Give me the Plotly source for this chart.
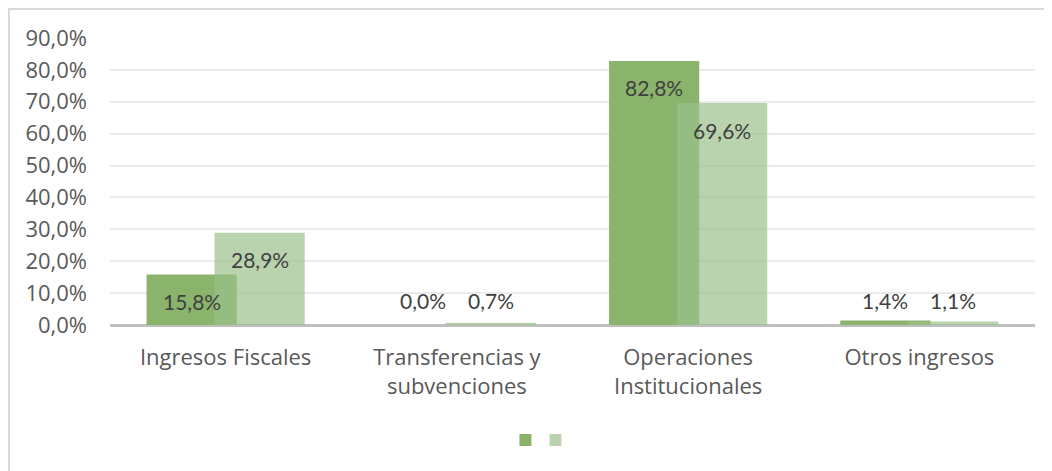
import plotly.graph_objects as go

categories = ["Ingresos Fiscales", "Transferencias y<br>subvenciones", "Operaciones<br>Institucionales", "Otros ingresos"]
serie_1 = [15.8, 0.0, 82.8, 1.4]
serie_2 = [28.9, 0.7, 69.6, 1.1]
tick_vals = [0, 10, 20, 30, 40, 50, 60, 70, 80, 90]
tick_text = ["0,0%", "10,0%", "20,0%", "30,0%", "40,0%", "50,0%", "60,0%", "70,0%", "80,0%", "90,0%"]

x_idx = list(range(len(categories)))
W = 0.39
OFF1 = -0.342
OFF2 = -0.048

fig = go.Figure()
fig.add_trace(go.Bar(x=x_idx, y=serie_1, width=W, offset=OFF1, name="", showlegend=True,
                     marker=dict(color="#8ab46c", line=dict(width=0)), legend="legend"))
fig.add_trace(go.Bar(x=x_idx, y=serie_2, width=W, offset=OFF2, name="", showlegend=True,
                     marker=dict(color="rgba(154,192,138,0.7)", line=dict(width=0)), legend="legend2"))

def fmt(v):
    return f"{v:.1f}".replace(".", ",") + "%"

annotations = []
for vals, off in ((serie_1, OFF1), (serie_2, OFF2)):
    for i, v in enumerate(vals):
        big = v > 12
        annotations.append(dict(
            x=i + off + W / 2, y=v if big else 0, xref="x", yref="y",
            text=fmt(v), showarrow=False, yanchor="middle",
            yshift=-27 if big else 25,
            font=dict(family="Lato", size=21, color="#404040")))

leg_common = dict(orientation="h", xanchor="center", yanchor="middle", y=-0.4007,
                  font=dict(size=12), itemwidth=30, bgcolor="rgba(0,0,0,0)", visible=True)

fig.update_layout(
    width=1044, height=463,
    margin=dict(l=102, r=17, t=30, b=146),
    paper_bgcolor="white", plot_bgcolor="white",
    barmode="overlay", showlegend=True,
    annotations=annotations,
    xaxis=dict(range=[-0.5, 3.5], tickvals=x_idx, ticktext=categories,
               showgrid=False, zeroline=False, showline=False, ticks="",
               ticklabelstandoff=17,
               tickfont=dict(family="Open Sans", size=22, color="#595959")),
    yaxis=dict(range=[0, 90], tickvals=tick_vals, ticktext=tick_text,
               showgrid=True, gridcolor="#ebebeb", gridwidth=1.5,
               zeroline=True, zerolinecolor="#bfbfbf", zerolinewidth=2.5,
               ticks="", ticklabelstandoff=22,
               tickfont=dict(family="Open Sans", size=22, color="#595959")),
    legend=dict(x=0.4518, **leg_common),
    legend2=dict(x=0.4843, **leg_common),
    shapes=[dict(type="rect", xref="paper", yref="paper",
                 x0=-0.1092, x1=1.2, y0=-1.0, y1=1.101,
                 line=dict(color="#d9d9d9", width=2), fillcolor="rgba(0,0,0,0)", layer="below")],
)

fig.write_html("out.html")
